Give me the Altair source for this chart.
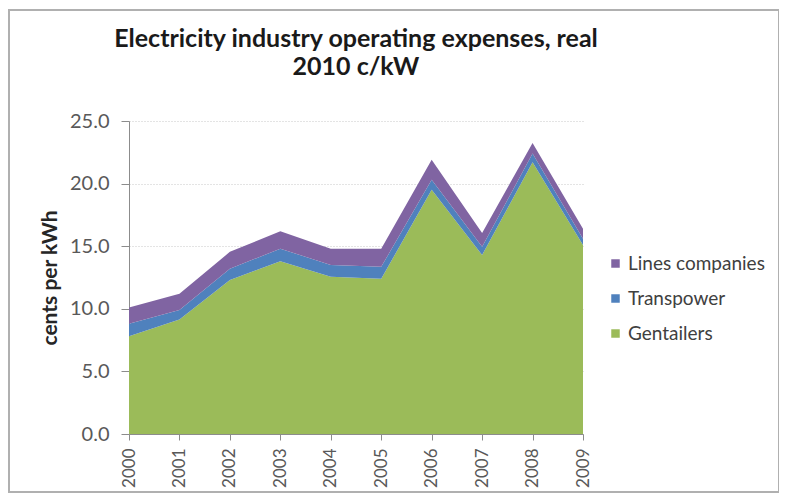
import altair as alt
import pandas as pd

years = [2000, 2001, 2002, 2003, 2004, 2005, 2006, 2007, 2008, 2009]
gentailers = [7.8, 9.15, 12.3, 13.8, 12.55, 12.4, 19.5, 14.3, 21.7, 15.1]
transpower = [1.0, 0.75, 0.9, 1.0, 0.95, 0.95, 0.8, 0.65, 0.7, 0.5]
lines_companies = [1.3, 1.3, 1.35, 1.4, 1.3, 1.45, 1.6, 1.1, 0.85, 0.8]

series_names = ["Gentailers", "Transpower", "Lines companies"]
series_values = [gentailers, transpower, lines_companies]
legend_order = ["Lines companies", "Transpower", "Gentailers"]
colors = ["#8064A2", "#4F81BD", "#9BBB59"]
y_ticks = [0, 5, 10, 15, 20, 25]
title_lines = ["Electricity industry operating expenses, real", "2010 c/kW"]

rows = []
for k, (name, vals) in enumerate(zip(series_names, series_values)):
    for yr, v in zip(years, vals):
        rows.append({"Year": yr, "Series": name, "Value": v, "Order": k})
df = pd.DataFrame(rows)

W, H = 454, 313
PL, PT, PR, PB = 121, 113, 196, 59

area = alt.Chart(df).mark_area(opacity=1).encode(
    x=alt.X("Year:Q", scale=alt.Scale(domain=[2000, 2009], nice=False, zero=False),
            axis=alt.Axis(values=years, format="d", labelAngle=-90, labelAlign="right",
                          labelBaseline="middle", tickSize=6, labelPadding=8,
                          grid=False, title=None, domainColor="#8c8c8c", tickColor="#8c8c8c",
                          labelFont="Lato", labelFontSize=17, labelColor="#595959")),
    y=alt.Y("Value:Q", stack="zero", scale=alt.Scale(domain=[0, 25], nice=False),
            axis=alt.Axis(values=y_ticks, format=".1f", tickSize=8, labelPadding=12,
                          grid=True, gridColor="#c8c8c8", gridDash=[1, 2],
                          domainColor="#8c8c8c", tickColor="#8c8c8c",
                          labelFont="Lato", labelFontSize=20, labelColor="#595959",
                          title="cents per kWh", titleFont="Lato", titleFontSize=21,
                          titleFontWeight="bold", titleColor="#262626", titlePadding=9)),
    color=alt.Color("Series:N", scale=alt.Scale(domain=legend_order, range=colors),
                    legend=alt.Legend(title=None, orient="none", legendX=477, legendY=133,
                                      symbolType="square", symbolSize=72, symbolStrokeWidth=0,
                                      labelFont="Lato", labelFontSize=19, labelColor="#404040",
                                      labelOffset=3, rowPadding=15, padding=0)),
    order=alt.Order("Order:Q", sort="ascending"),
)

title1 = alt.Chart(alt.Data(values=[{"t": title_lines[0]}])).mark_text(
    font="Lato", fontSize=25, fontWeight="bold", color="#1a1a1a",
    align="center", baseline="alphabetic"
).encode(text="t:N", x=alt.value(W / 2), y=alt.value(-74))
title2 = alt.Chart(alt.Data(values=[{"t": title_lines[1]}])).mark_text(
    font="Lato", fontSize=25, fontWeight="bold", color="#1a1a1a",
    align="center", baseline="alphabetic"
).encode(text="t:N", x=alt.value(W / 2), y=alt.value(-46))

frame = alt.Chart(alt.Data(values=[{}])).mark_rect(
    fill=None, stroke="#b0b0b0", strokeWidth=2
).encode(
    x=alt.value(-120), x2=alt.value(650), y=alt.value(-111), y2=alt.value(371)
)

chart = alt.layer(area, title1, title2, frame).properties(
    width=W, height=H,
    autosize=alt.AutoSizeParams(type="none"),
    padding={"left": PL, "top": PT, "right": PR, "bottom": PB},
).configure_view(stroke=None)

chart.save("out.html", embed_options={"renderer": "svg", "actions": False})
